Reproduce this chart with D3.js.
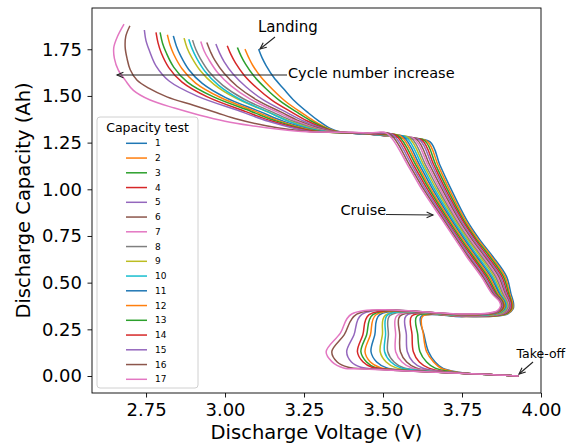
<!DOCTYPE html>
<html><head><meta charset="utf-8">
<script src="https://cdn.jsdelivr.net/npm/d3@7"></script>
<style>body{margin:0;background:#fff} text{font-family:"DejaVu Sans",sans-serif}</style>
</head><body><svg id="c" width="579" height="447"></svg>
<script>
// ---- data: [discharge voltage (V), discharge capacity (Ah)] ----
const cycle1 = [[3.927,0],[3.86,0.006],[3.78,0.012],[3.74,0.020],[3.69,0.040],[3.665,0.075],[3.644,0.13],[3.630,0.22],[3.620,0.318],[3.75,0.318],[3.86,0.321],[3.895,0.333],[3.912,0.36],[3.913,0.39],[3.905,0.44],[3.891,0.532],[3.848,0.639],[3.807,0.728],[3.765,0.835],[3.712,1.013],[3.68,1.13],[3.649,1.254],[3.58,1.272],[3.491,1.29],[3.364,1.308],[3.333,1.326],[3.295,1.368],[3.263,1.410],[3.220,1.473],[3.186,1.537],[3.154,1.600],[3.130,1.663],[3.117,1.705],[3.107,1.747]];
const cycle2 = [[3.927,0],[3.86,0.006],[3.78,0.012],[3.73,0.021],[3.685,0.040],[3.66,0.075],[3.638,0.13],[3.628,0.22],[3.625,0.319],[3.75,0.319],[3.858,0.322],[3.893,0.334],[3.910,0.361],[3.910,0.391],[3.901,0.44],[3.886,0.532],[3.843,0.639],[3.802,0.728],[3.760,0.835],[3.706,1.013],[3.674,1.13],[3.640,1.257],[3.573,1.274],[3.485,1.291],[3.360,1.308],[3.328,1.325],[3.281,1.367],[3.243,1.409],[3.190,1.473],[3.150,1.536],[3.115,1.599],[3.088,1.663],[3.075,1.705],[3.064,1.747]];
const cycle3 = [[3.927,0],[3.86,0.006],[3.78,0.012],[3.72,0.022],[3.665,0.042],[3.638,0.075],[3.617,0.13],[3.610,0.22],[3.607,0.320],[3.75,0.320],[3.856,0.323],[3.891,0.335],[3.907,0.362],[3.907,0.391],[3.898,0.44],[3.881,0.532],[3.838,0.639],[3.797,0.728],[3.755,0.835],[3.700,1.013],[3.667,1.13],[3.632,1.260],[3.565,1.276],[3.480,1.292],[3.356,1.308],[3.324,1.324],[3.271,1.367],[3.230,1.410],[3.173,1.475],[3.129,1.540],[3.092,1.605],[3.065,1.670],[3.051,1.713],[3.040,1.756]];
const cycle4 = [[3.927,0],[3.86,0.006],[3.78,0.012],[3.70,0.023],[3.645,0.042],[3.615,0.075],[3.596,0.13],[3.592,0.22],[3.591,0.321],[3.75,0.321],[3.854,0.324],[3.889,0.337],[3.905,0.363],[3.905,0.392],[3.894,0.44],[3.876,0.532],[3.832,0.639],[3.793,0.728],[3.751,0.835],[3.694,1.013],[3.661,1.13],[3.623,1.263],[3.558,1.278],[3.474,1.293],[3.352,1.308],[3.319,1.323],[3.259,1.367],[3.213,1.411],[3.148,1.478],[3.100,1.544],[3.061,1.610],[3.033,1.677],[3.019,1.721],[3.008,1.765]];
const cycle5 = [[3.927,0],[3.86,0.006],[3.78,0.012],[3.68,0.025],[3.625,0.043],[3.595,0.075],[3.577,0.13],[3.574,0.22],[3.573,0.322],[3.75,0.322],[3.853,0.325],[3.887,0.338],[3.902,0.364],[3.902,0.393],[3.890,0.44],[3.871,0.532],[3.827,0.639],[3.788,0.728],[3.746,0.835],[3.689,1.013],[3.655,1.13],[3.615,1.266],[3.550,1.280],[3.468,1.294],[3.348,1.308],[3.315,1.322],[3.246,1.367],[3.195,1.412],[3.120,1.480],[3.067,1.548],[3.026,1.616],[2.997,1.684],[2.983,1.729],[2.972,1.774]];
const cycle6 = [[3.927,0],[3.86,0.006],[3.78,0.012],[3.66,0.026],[3.605,0.043],[3.575,0.075],[3.555,0.13],[3.553,0.22],[3.554,0.322],[3.75,0.322],[3.851,0.326],[3.885,0.339],[3.900,0.365],[3.899,0.393],[3.886,0.44],[3.866,0.532],[3.822,0.639],[3.783,0.728],[3.741,0.835],[3.683,1.013],[3.648,1.13],[3.606,1.268],[3.543,1.281],[3.463,1.295],[3.344,1.308],[3.310,1.320],[3.234,1.366],[3.178,1.413],[3.097,1.482],[3.038,1.552],[2.997,1.621],[2.968,1.690],[2.954,1.737],[2.943,1.783]];
const cycle7 = [[3.927,0],[3.86,0.006],[3.78,0.012],[3.65,0.027],[3.59,0.044],[3.56,0.075],[3.540,0.13],[3.540,0.22],[3.544,0.323],[3.75,0.323],[3.849,0.327],[3.883,0.340],[3.897,0.366],[3.896,0.394],[3.883,0.44],[3.861,0.532],[3.817,0.639],[3.778,0.728],[3.736,0.835],[3.677,1.013],[3.642,1.13],[3.598,1.271],[3.535,1.283],[3.457,1.296],[3.340,1.308],[3.305,1.319],[3.225,1.366],[3.166,1.413],[3.080,1.483],[3.019,1.554],[2.977,1.624],[2.949,1.694],[2.934,1.741],[2.924,1.788]];
const cycle8 = [[3.927,0],[3.86,0.006],[3.78,0.012],[3.63,0.028],[3.565,0.044],[3.535,0.075],[3.515,0.13],[3.517,0.22],[3.522,0.324],[3.75,0.324],[3.847,0.327],[3.881,0.340],[3.895,0.367],[3.893,0.394],[3.879,0.44],[3.856,0.532],[3.812,0.639],[3.773,0.728],[3.731,0.835],[3.671,1.013],[3.635,1.13],[3.589,1.274],[3.528,1.285],[3.451,1.297],[3.336,1.308],[3.301,1.318],[3.214,1.366],[3.151,1.413],[3.058,1.485],[2.993,1.557],[2.950,1.628],[2.922,1.700],[2.908,1.747],[2.898,1.795]];
const cycle9 = [[3.927,0],[3.86,0.006],[3.78,0.012],[3.60,0.030],[3.54,0.045],[3.51,0.075],[3.491,0.13],[3.498,0.22],[3.507,0.325],[3.75,0.325],[3.845,0.328],[3.879,0.342],[3.892,0.368],[3.891,0.395],[3.875,0.44],[3.851,0.532],[3.807,0.639],[3.769,0.728],[3.727,0.835],[3.665,1.013],[3.629,1.13],[3.581,1.277],[3.520,1.287],[3.446,1.298],[3.332,1.308],[3.296,1.317],[3.202,1.366],[3.134,1.415],[3.034,1.488],[2.965,1.562],[2.922,1.635],[2.894,1.708],[2.880,1.757],[2.871,1.806]];
const cycle10 = [[3.927,0],[3.86,0.006],[3.78,0.012],[3.61,0.030],[3.555,0.045],[3.525,0.075],[3.505,0.13],[3.508,0.22],[3.514,0.326],[3.75,0.326],[3.843,0.330],[3.876,0.343],[3.890,0.368],[3.888,0.396],[3.871,0.44],[3.846,0.532],[3.801,0.639],[3.764,0.728],[3.722,0.835],[3.659,1.013],[3.623,1.13],[3.572,1.280],[3.513,1.289],[3.440,1.298],[3.328,1.307],[3.291,1.316],[3.202,1.364],[3.138,1.413],[3.044,1.485],[2.979,1.558],[2.937,1.631],[2.910,1.703],[2.896,1.752],[2.886,1.800]];
const cycle11 = [[3.927,0],[3.86,0.006],[3.78,0.012],[3.57,0.031],[3.51,0.045],[3.48,0.075],[3.462,0.13],[3.474,0.22],[3.489,0.327],[3.75,0.327],[3.841,0.331],[3.874,0.344],[3.887,0.369],[3.885,0.396],[3.868,0.44],[3.841,0.532],[3.796,0.639],[3.759,0.728],[3.717,0.835],[3.653,1.013],[3.616,1.13],[3.563,1.283],[3.505,1.291],[3.434,1.299],[3.324,1.307],[3.287,1.315],[3.184,1.365],[3.111,1.416],[3.002,1.491],[2.928,1.567],[2.885,1.642],[2.859,1.717],[2.846,1.768],[2.837,1.818]];
const cycle12 = [[3.927,0],[3.86,0.006],[3.78,0.012],[3.55,0.032],[3.49,0.046],[3.46,0.075],[3.443,0.13],[3.46,0.22],[3.478,0.328],[3.75,0.328],[3.839,0.332],[3.872,0.345],[3.885,0.370],[3.882,0.397],[3.864,0.44],[3.836,0.532],[3.791,0.639],[3.754,0.728],[3.712,0.835],[3.647,1.013],[3.610,1.13],[3.555,1.286],[3.498,1.293],[3.428,1.300],[3.320,1.307],[3.282,1.314],[3.173,1.365],[3.098,1.416],[2.984,1.493],[2.907,1.569],[2.864,1.646],[2.838,1.722],[2.826,1.773],[2.818,1.824]];
const cycle13 = [[3.927,0],[3.86,0.006],[3.78,0.012],[3.54,0.033],[3.475,0.046],[3.448,0.075],[3.430,0.13],[3.448,0.22],[3.468,0.329],[3.75,0.329],[3.838,0.333],[3.870,0.346],[3.882,0.371],[3.879,0.398],[3.860,0.44],[3.831,0.532],[3.786,0.639],[3.749,0.728],[3.707,0.835],[3.642,1.013],[3.604,1.13],[3.546,1.289],[3.490,1.295],[3.423,1.301],[3.316,1.307],[3.278,1.313],[3.163,1.365],[3.083,1.417],[2.962,1.496],[2.881,1.574],[2.838,1.653],[2.814,1.731],[2.802,1.784],[2.795,1.836]];
const cycle14 = [[3.927,0],[3.86,0.006],[3.78,0.012],[3.53,0.034],[3.465,0.047],[3.437,0.075],[3.419,0.13],[3.436,0.22],[3.456,0.329],[3.75,0.329],[3.836,0.333],[3.868,0.347],[3.880,0.372],[3.876,0.398],[3.856,0.44],[3.826,0.532],[3.781,0.639],[3.744,0.728],[3.702,0.835],[3.636,1.013],[3.597,1.13],[3.538,1.291],[3.483,1.296],[3.417,1.302],[3.312,1.307],[3.273,1.312],[3.150,1.364],[3.066,1.416],[2.944,1.495],[2.864,1.574],[2.822,1.652],[2.798,1.731],[2.788,1.784],[2.782,1.836]];
const cycle15 = [[3.927,0],[3.86,0.006],[3.78,0.012],[3.50,0.035],[3.43,0.047],[3.40,0.075],[3.385,0.13],[3.408,0.22],[3.433,0.330],[3.75,0.330],[3.834,0.334],[3.866,0.348],[3.877,0.373],[3.874,0.399],[3.853,0.44],[3.821,0.532],[3.775,0.639],[3.740,0.728],[3.698,0.835],[3.630,1.013],[3.591,1.13],[3.529,1.294],[3.475,1.298],[3.411,1.303],[3.308,1.307],[3.268,1.310],[3.137,1.364],[3.048,1.418],[2.912,1.499],[2.823,1.580],[2.782,1.660],[2.761,1.741],[2.750,1.795],[2.745,1.849]];
const cycle16 = [[3.927,0],[3.86,0.006],[3.78,0.012],[3.46,0.037],[3.39,0.047],[3.355,0.075],[3.338,0.13],[3.377,0.22],[3.417,0.331],[3.75,0.331],[3.832,0.335],[3.864,0.349],[3.875,0.374],[3.871,0.399],[3.849,0.44],[3.816,0.532],[3.770,0.639],[3.735,0.728],[3.693,0.835],[3.624,1.013],[3.584,1.13],[3.521,1.297],[3.468,1.300],[3.406,1.304],[3.304,1.307],[3.264,1.309],[3.13,1.34],[3.04,1.375],[2.974,1.41],[2.90,1.45],[2.816,1.495],[2.76,1.54],[2.721,1.585],[2.700,1.64],[2.690,1.70],[2.684,1.76],[2.686,1.82],[2.698,1.872]];
const cycle17 = [[3.927,0],[3.86,0.006],[3.78,0.012],[3.44,0.038],[3.375,0.043],[3.338,0.077],[3.320,0.13],[3.365,0.23],[3.401,0.332],[3.75,0.332],[3.83,0.336],[3.862,0.350],[3.872,0.375],[3.868,0.40],[3.845,0.44],[3.811,0.532],[3.765,0.639],[3.730,0.728],[3.688,0.835],[3.618,1.013],[3.578,1.13],[3.512,1.30],[3.46,1.302],[3.40,1.305],[3.30,1.307],[3.259,1.308],[3.17,1.322],[3.08,1.342],[3.00,1.365],[2.92,1.397],[2.84,1.435],[2.763,1.478],[2.71,1.53],[2.684,1.585],[2.662,1.64],[2.650,1.70],[2.648,1.76],[2.66,1.82],[2.679,1.881]];

const cycleNames = ["1","2","3","4","5","6","7","8","9","10","11","12","13","14","15","16","17"];
const cycleSeries = [cycle1,cycle2,cycle3,cycle4,cycle5,cycle6,cycle7,cycle8,cycle9,cycle10,cycle11,cycle12,cycle13,cycle14,cycle15,cycle16,cycle17];
const xTicks = [2.75, 3.00, 3.25, 3.50, 3.75, 4.00];
const yTicks = [0.00, 0.25, 0.50, 0.75, 1.00, 1.25, 1.50, 1.75];
const palette = ["#1f77b4","#ff7f0e","#2ca02c","#d62728","#9467bd","#8c564b","#e377c2","#7f7f7f","#bcbd22","#17becf"];

// ---- drawing ----
const svg = d3.select("#c");
const L = 92, R = 541, T = 8, B = 393;
const x = d3.scaleLinear().domain([2.579, 4.0]).range([L, R]);
const y = d3.scaleLinear().domain([-0.091, 1.971]).range([B, T]);
const color = d3.scaleOrdinal().domain(cycleNames).range(palette);

svg.append("rect").attr("width", 579).attr("height", 447).attr("fill", "#fff");

const line = d3.line().x(d => x(d[0])).y(d => y(d[1])).curve(d3.curveCatmullRom.alpha(0.5));
const plot = svg.append("g");
cycleSeries.forEach((s, i) => {
  plot.append("path").attr("d", line(s)).attr("fill", "none")
    .attr("stroke", color(cycleNames[i])).attr("stroke-width", 1.5)
    .attr("stroke-linejoin", "round").attr("stroke-linecap", "square");
});

// axes
const fmt = d3.format(".2f");
const gx = svg.append("g").attr("transform", `translate(0,${B})`)
  .call(d3.axisBottom(x).tickValues(xTicks).tickFormat(fmt).tickSize(4.5).tickPadding(5.7));
const gy = svg.append("g").attr("transform", `translate(${L},0)`)
  .call(d3.axisLeft(y).tickValues(yTicks).tickFormat(fmt).tickSize(4.5).tickPadding(5.5));
[gx, gy].forEach(g => {
  g.select(".domain").remove();
  g.selectAll(".tick line").attr("stroke", "#000").attr("stroke-width", 0.9);
  g.selectAll(".tick text").attr("fill", "#000").style("font-size", "18px").style("font-family", "DejaVu Sans");
});

svg.append("rect").attr("x", L).attr("y", T).attr("width", R - L).attr("height", B - T)
  .attr("fill", "none").attr("stroke", "#000").attr("stroke-width", 0.9);

svg.append("text").attr("x", (L + R) / 2).attr("y", 439).attr("text-anchor", "middle")
  .style("font-size", "19.5px").attr("fill", "#000").text("Discharge Voltage (V)");
svg.append("text").attr("transform", `translate(30,${(T + B) / 2}) rotate(-90)`).attr("text-anchor", "middle")
  .style("font-size", "19.5px").attr("fill", "#000").text("Discharge Capacity (Ah)");

// legend
const lg = svg.append("g");
lg.append("rect").attr("x", 97).attr("y", 117).attr("width", 101).attr("height", 271)
  .attr("rx", 3).attr("fill", "#fff").attr("fill-opacity", 0.8).attr("stroke", "#d0d0d0").attr("stroke-width", 1);
lg.append("text").attr("x", 147.5).attr("y", 132).attr("text-anchor", "middle")
  .style("font-size", "12.5px").attr("fill", "#000").text("Capacity test");
cycleNames.forEach((n, i) => {
  const yy = 143.3 + i * 14.75;
  lg.append("line").attr("x1", 126).attr("x2", 147).attr("y1", yy).attr("y2", yy)
    .attr("stroke", color(n)).attr("stroke-width", 1.5);
  lg.append("text").attr("x", 155).attr("y", yy).attr("dy", "0.35em")
    .style("font-size", "9px").attr("fill", "#000").text(n);
});

// annotations
function arrow(x1, y1, x2, y2) {
  const g = svg.append("g").attr("stroke", "#222").attr("stroke-width", 1.1).attr("fill", "none");
  g.append("line").attr("x1", x1).attr("y1", y1).attr("x2", x2).attr("y2", y2);
  const a = Math.atan2(y2 - y1, x2 - x1), len = 7, sp = 0.42;
  g.append("path").attr("d",
    `M${x2 - len * Math.cos(a - sp)},${y2 - len * Math.sin(a - sp)}L${x2},${y2}L${x2 - len * Math.cos(a + sp)},${y2 - len * Math.sin(a + sp)}`);
}
function label(t, xx, yy, fs) {
  svg.append("text").attr("x", xx).attr("y", yy).style("font-size", fs + "px").attr("fill", "#000").text(t);
}
label("Landing", 258, 32, 15);
arrow(275, 37, 260, 49);
label("Cycle number increase", 288, 78, 14.5);
arrow(287, 75, 117, 75);
label("Cruise", 340.5, 215, 14.5);
arrow(386, 214.5, 433, 215);
label("Take-off", 516.5, 358, 12.5);
arrow(533, 362, 519, 374);
</script></body></html>
